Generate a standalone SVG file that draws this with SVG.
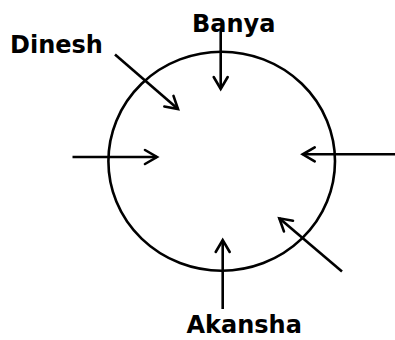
<svg xmlns="http://www.w3.org/2000/svg" width="395" height="340" viewBox="0 0 395 340">
<style>
.lbl{font-family:"DejaVu Sans",Verdana,sans-serif;font-weight:bold;font-size:24px;fill:#000}
.ar{stroke:#000;stroke-width:2.6;fill:none;marker-end:url(#chev)}
</style>
<defs>
<marker id="chev" markerUnits="userSpaceOnUse" markerWidth="30" markerHeight="30" refX="0" refY="0" viewBox="-15 -15 30 30" orient="auto" overflow="visible">
<path d="M-12,-7 L0,0 L-12,7" fill="none" stroke="#000" stroke-width="2.6" stroke-linecap="round" stroke-linejoin="miter"/>
</marker>
</defs>
<rect width="395" height="340" fill="#fff"/>
<g id="circle">
<ellipse cx="221.7" cy="161.2" rx="113.3" ry="109.5" fill="none" stroke="#000" stroke-width="2.6"/>
</g>
<g id="connectors">
<line class="ar" x1="115" y1="54.5" x2="178" y2="109"/>
<line class="ar" x1="220.7" y1="30" x2="220.7" y2="89"/>
<line class="ar" x1="72.5" y1="157" x2="157" y2="157"/>
<line class="ar" x1="395" y1="154.3" x2="302.7" y2="154.3"/>
<line class="ar" x1="342" y1="271.5" x2="279.3" y2="218.3"/>
<line class="ar" x1="222.7" y1="309" x2="222.7" y2="240"/>
</g>
<g id="dinesh"><text class="lbl" x="10" y="53">Dinesh</text></g>
<g id="banya"><text class="lbl" x="192" y="31.5">Banya</text></g>
<g id="akansha"><text class="lbl" x="186.5" y="333">Akansha</text></g>
</svg>
